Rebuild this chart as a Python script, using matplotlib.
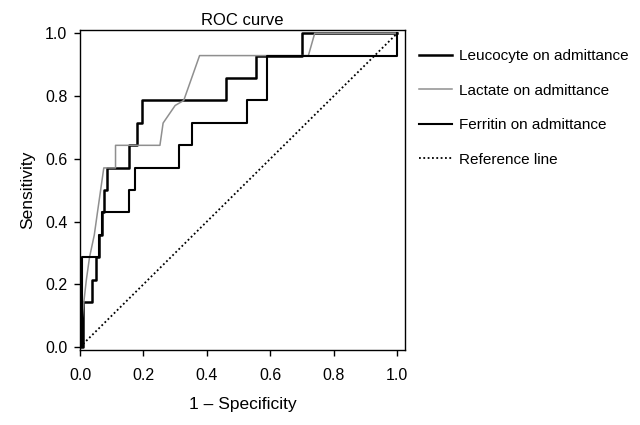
import matplotlib

matplotlib.use("Agg")

import matplotlib.pyplot as plt

plt.rcParams["font.family"] = ["Liberation Sans", "DejaVu Sans"]

# ROC curve vertices (1 - specificity, sensitivity).
leuco_fpr = [0, 0.01, 0.01, 0.038, 0.038, 0.05, 0.05, 0.06, 0.06, 0.068, 0.068, 0.075, 0.075,
             0.085, 0.085, 0.156, 0.156, 0.18, 0.18, 0.197, 0.197, 0.459, 0.459, 0.556, 0.556,
             0.70, 0.70, 1.0]
leuco_tpr = [0, 0, 0.143, 0.143, 0.214, 0.214, 0.286, 0.286, 0.357, 0.357, 0.429, 0.429, 0.5,
             0.5, 0.571, 0.571, 0.643, 0.643, 0.714, 0.714, 0.786, 0.786, 0.857, 0.857, 0.929,
             0.929, 1.0, 1.0]

lactate_fpr = [0, 0.005, 0.012, 0.02, 0.03, 0.045, 0.055, 0.065, 0.075, 0.112, 0.112, 0.252,
               0.262, 0.30, 0.327, 0.377, 0.72, 0.74, 1.0]
lactate_tpr = [0, 0.071, 0.143, 0.214, 0.286, 0.357, 0.429, 0.5, 0.571, 0.571, 0.643, 0.643,
               0.714, 0.77, 0.786, 0.929, 0.929, 1.0, 1.0]

ferritin_fpr = [0, 0.005, 0.005, 0.06, 0.06, 0.068, 0.068, 0.155, 0.155, 0.174, 0.174, 0.311,
                0.311, 0.352, 0.352, 0.527, 0.527, 0.59, 0.59, 1.0, 1.0]
ferritin_tpr = [0, 0, 0.286, 0.286, 0.357, 0.357, 0.429, 0.429, 0.5, 0.5, 0.571, 0.571, 0.643,
                0.643, 0.714, 0.714, 0.786, 0.786, 0.929, 0.929, 1.0]

ref_xy = [0, 1]

ticks = [0.0, 0.2, 0.4, 0.6, 0.8, 1.0]
labels = ["Leucocyte on admittance", "Lactate on admittance",
          "Ferritin on admittance", "Reference line"]

fig = plt.figure(figsize=(6.4, 4.25), dpi=100)
ax = fig.add_axes([0.125, 0.176, 0.508, 0.753])

h1, = ax.plot(leuco_fpr, leuco_tpr, color="black", linewidth=1.8)
h2, = ax.plot(lactate_fpr, lactate_tpr, color="#8f8f8f", linewidth=1.1)
h3, = ax.plot(ferritin_fpr, ferritin_tpr, color="black", linewidth=1.5)
h4, = ax.plot(ref_xy, ref_xy, color="black", linewidth=1.3, linestyle=(0, (1, 1.4)))

ax.set_xlim(0, 1.025)
ax.set_ylim(-0.01, 1.01)
ax.set_xticks(ticks)
ax.set_yticks(ticks)
ax.set_xticklabels([f"{t:.1f}" for t in ticks])
ax.set_yticklabels([f"{t:.1f}" for t in ticks])
ax.tick_params(axis="both", direction="out", length=4, width=1, labelsize=11.5,
               top=False, right=False)
ax.tick_params(axis="x", pad=9)
ax.tick_params(axis="y", pad=5)
for spine in ax.spines.values():
    spine.set_linewidth(1.0)

ax.set_title("ROC curve", fontsize=12, pad=4)
ax.set_xlabel("1 \u2013 Specificity", fontsize=12.5, labelpad=10)
ax.set_ylabel("Sensitivity", fontsize=12.5, labelpad=7)

fig.legend([h1, h2, h3, h4], labels, loc="upper left",
           bbox_to_anchor=(0.655, 0.884), bbox_transform=fig.transFigure,
           frameon=False, fontsize=11, handlelength=2.15, handletextpad=0.45,
           labelspacing=1.34, borderpad=0, borderaxespad=0)

fig.savefig("out.png", dpi=100)
